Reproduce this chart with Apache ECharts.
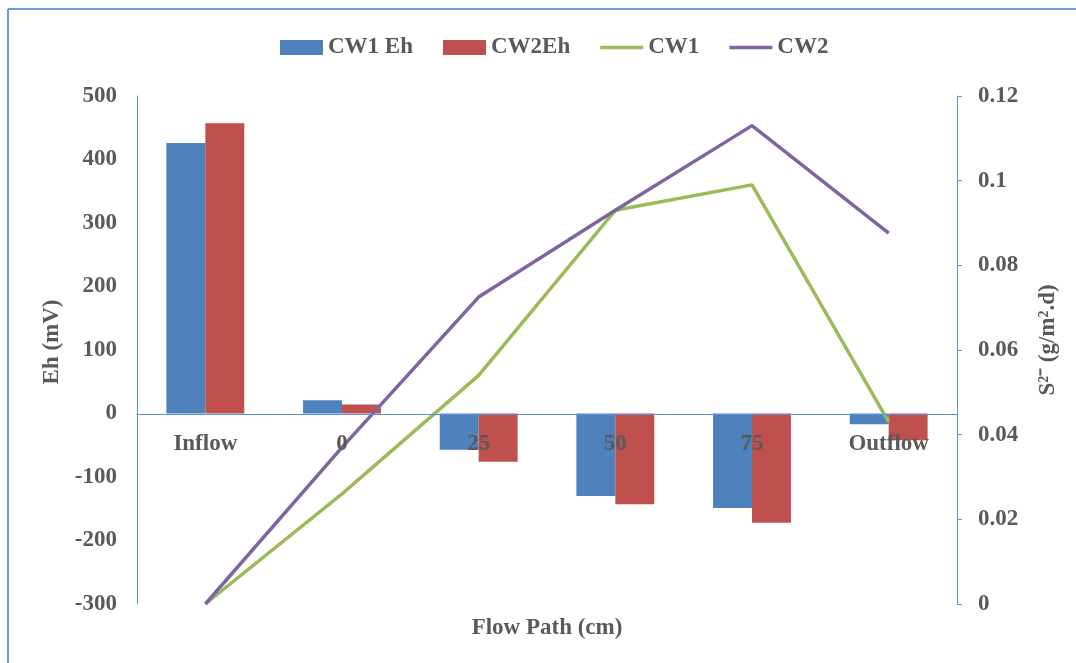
<!DOCTYPE html>
<html>
<head>
<meta charset="utf-8">
<script src="https://cdn.jsdelivr.net/npm/echarts@6/dist/echarts.min.js"></script>
<style>
  html, body { margin: 0; padding: 0; background: #fff; }
  #chart { width: 1076px; height: 663px; }
</style>
</head>
<body>
<div id="chart"></div>
<script>
// data
var categories = ['Inflow', '0', '25', '50', '75', 'Outflow'];
var cw1Eh = [426, 21, -57, -130, -149, -17];
var cw2Eh = [457, 14, -76, -143, -172, -42];
var cw1S = [0, 0.026, 0.054, 0.093, 0.099, 0.043];
var cw2S = [0, 0.037, 0.0725, 0.093, 0.113, 0.0876];

var txt = '#595959';
var font = '"Liberation Serif", "Times New Roman", serif';
var axisBlue = '#5b8fd6';
var lineIcon = 'path://M0,0 L43,0 L43,3.5 L0,3.5 Z';
var fs = 23;

var dom = document.getElementById('chart');
var chart = echarts.init(dom);

var option = {
  backgroundColor: '#fff',
  animation: false,
  textStyle: { fontFamily: font },
  graphic: [
    // frame: only top and left edges visible
    { type: 'line', shape: { x1: 8, y1: 9, x2: 1076, y2: 9 }, style: { stroke: '#6a9fdc', lineWidth: 2 } },
    { type: 'line', shape: { x1: 8, y1: 9, x2: 8, y2: 663 }, style: { stroke: '#6a9fdc', lineWidth: 2 } }
  ],
  legend: {
    top: 31,
    left: 275,
    itemWidth: 43,
    itemHeight: 15,
    itemGap: 30,
    textStyle: { color: txt, fontSize: fs, fontWeight: 'bold', fontFamily: font },
    data: [
      { name: 'CW1 Eh', icon: 'rect' },
      { name: 'CW2Eh', icon: 'rect' },
      { name: 'CW1', icon: lineIcon },
      { name: 'CW2', icon: lineIcon }
    ]
  },
  grid: { left: 137, right: 119, top: 96, bottom: 59, outerBoundsMode: 'none' },
  xAxis: {
    type: 'category',
    data: categories,
    z: 10,
    position: 'bottom',
    offset: -190,
    name: 'Flow Path (cm)',
    nameLocation: 'middle',
    nameGap: 203,
    nameMoveOverlap: false,
    nameTextStyle: { color: txt, fontSize: fs, fontWeight: 'bold' },
    axisLine: { onZero: false, lineStyle: { color: axisBlue, width: 1 } },
    axisTick: { show: false },
    axisLabel: { color: txt, fontSize: fs, fontWeight: 'bold', margin: 19 }
  },
  yAxis: [
    {
      type: 'value',
      min: -300,
      max: 500,
      interval: 100,
      name: 'Eh (mV)',
      nameLocation: 'middle',
      nameGap: 70,
      nameTextStyle: { color: txt, fontSize: fs, fontWeight: 'bold', padding: [0, 0, 0, 16] },
      axisLine: { show: true, lineStyle: { color: axisBlue, width: 1 } },
      axisTick: { show: false },
      splitLine: { show: false },
      axisLabel: { color: txt, fontSize: fs, fontWeight: 'bold', margin: 20 }
    },
    {
      type: 'value',
      min: 0,
      max: 0.12,
      interval: 0.02,
      name: 'S\u00b2\u207b (g/m\u00b2.d)',
      nameLocation: 'middle',
      nameGap: 80,
      nameRotate: 90,
      nameTextStyle: { color: txt, fontSize: fs, fontWeight: 'bold', padding: [0, 0, 0, 20] },
      axisLine: { show: true, lineStyle: { color: axisBlue, width: 1 } },
      axisTick: { show: true, length: 5, lineStyle: { color: axisBlue } },
      splitLine: { show: false },
      axisLabel: { color: txt, fontSize: fs, fontWeight: 'bold', margin: 21 }
    }
  ],
  series: [
    {
      name: 'CW1 Eh',
      type: 'bar',
      data: cw1Eh,
      barGap: '0%',
      barCategoryGap: '43%',
      itemStyle: { color: '#4f81bd' }
    },
    {
      name: 'CW2Eh',
      type: 'bar',
      data: cw2Eh,
      itemStyle: { color: '#c0504d' }
    },
    {
      name: 'CW1',
      type: 'line',
      yAxisIndex: 1,
      data: cw1S,
      symbol: 'none',
      z: 5,
      lineStyle: { color: '#9bbb59', width: 3.5 },
      itemStyle: { color: '#9bbb59' }
    },
    {
      name: 'CW2',
      type: 'line',
      yAxisIndex: 1,
      data: cw2S,
      symbol: 'none',
      z: 5,
      lineStyle: { color: '#8064a2', width: 3.5 },
      itemStyle: { color: '#8064a2' }
    }
  ]
};

chart.setOption(option);
</script>
</body>
</html>
